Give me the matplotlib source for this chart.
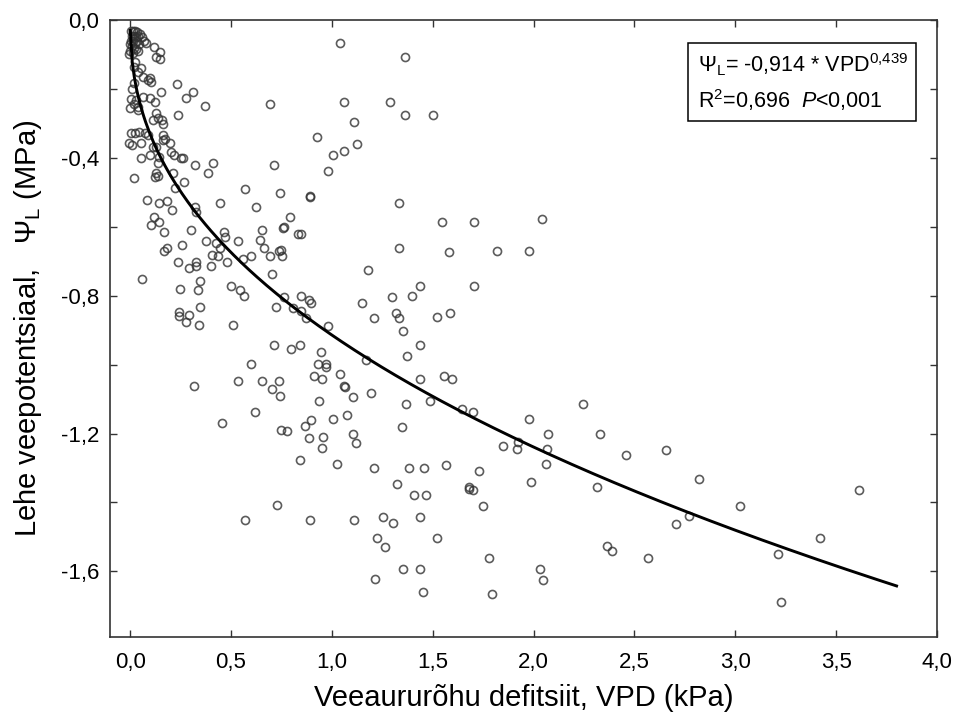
import numpy as np
import matplotlib
matplotlib.use('Agg')
import matplotlib.pyplot as plt
from matplotlib.ticker import FuncFormatter, MultipleLocator
from matplotlib.patches import Rectangle

plt.rcParams['font.family'] = ['Liberation Sans', 'DejaVu Sans']
plt.rcParams['mathtext.fontset'] = 'custom'
plt.rcParams['mathtext.rm'] = 'Liberation Sans'
plt.rcParams['mathtext.it'] = 'Liberation Sans:italic'

# fitted model: Psi_L = a * VPD^b
a_coef = -0.914
b_coef = 0.439
vpd_fit_max = 3.8

vpd = [
    0.005, 0.015, 0.025, 0.035, 0.010, 0.020, 0.030, 0.040, 0.050, 0.005,
    0.015, 0.025, 0.035, 0.045, 0.010, 0.020, 0.030, 0.000, 0.015, 0.040,
    0.060, 0.070, -0.003, -0.006, 0.079,
    0.026, 0.018, 0.038, 0.054, 0.063, 0.088, 0.104, 0.096, 0.021, 0.010,
    0.006, 0.001, 0.030, 0.041, 0.038, 0.061, 0.021, 0.096, 0.124,
    0.120, 0.150, 0.129, 0.150,
    0.231, 0.313, 0.279, 0.371, 0.155, 0.239, 0.694,
    0.130, 0.137, 0.158, 0.165, 0.115,
    0.163, 0.173, 0.162, 0.199, 0.204, 0.219, 0.252, 0.264, 0.322, 0.411,
    0.385, 0.711,
    0.051, 0.099, 0.137, 0.145, 0.021, 0.126, 0.124, 0.137, 0.214, 0.269,
    0.223, 0.571, 0.744,
    0.002, 0.025, 0.046, 0.071, 0.088, -0.005, 0.010, 0.051, 0.115, 0.129,
    0.084, 0.145, 0.183, 0.208, 0.323, 0.327, 0.445, 0.624, 0.792,
    0.120, 0.142, 0.104, 0.168, 0.300, 0.467, 0.472, 0.655, 0.756, 0.764,
    0.833, 0.642, 0.536, 0.378, 0.427, 0.444, 0.259, 0.180, 0.167, 0.665,
    0.736, 0.747, 0.407, 0.437, 0.599, 0.559, 0.694, 0.754, 0.480, 0.236,
    0.327, 0.328, 0.290, 0.402, 0.701, 0.056, 0.348, 0.246, 0.335, 0.500,
    0.543, 0.564, 0.762, 0.887, 0.721, 0.807, 0.874, 0.348, 0.241, 0.244,
    0.292, 0.279, 0.340, 0.508, 0.714, 0.797, 0.841, 0.599, 0.536, 0.653,
    0.737, 0.701, 0.744, 0.315, 0.618, 0.454, 0.747, 0.777, 0.840, 0.729,
    0.569, 0.846,
    1.041, 1.361, 1.062, 1.290, 1.361, 1.500, 1.110, 0.924, 1.125, 1.062,
    1.006, 0.980, 0.889, 0.891, 1.331, 0.846, 1.547, 1.705, 2.040, 1.331,
    1.582, 1.817, 1.976, 1.179, 1.436, 1.705, 1.395, 1.296, 1.151, 0.846,
    0.896, 1.320, 1.588, 1.209, 1.331, 1.519,
    0.981, 1.352, 1.435, 0.945, 1.372, 1.171, 0.932, 0.973, 0.973, 1.041,
    0.909, 0.952, 1.435, 1.554, 1.597, 1.062, 1.067, 1.103, 1.192, 0.937,
    1.367, 1.484, 1.644, 1.701, 2.246, 1.976, 1.075, 1.006, 0.896, 0.867,
    1.346, 2.073, 2.329, 1.103, 1.118, 0.887, 0.958, 0.950, 1.850, 1.920,
    1.923, 2.067, 2.459, 1.027, 2.060, 1.207, 1.380, 1.458, 1.567, 1.728,
    1.325, 1.989, 2.316, 1.679, 1.701, 1.679, 1.409, 1.465, 1.747, 0.889,
    1.110, 1.255, 1.305, 1.435, 1.519, 1.222, 1.263, 2.365, 2.387, 1.781,
    1.352, 1.435, 2.032, 2.046, 1.214, 1.451, 1.796,
    2.657, 2.820, 3.612, 3.023, 2.705, 2.773, 2.567, 3.418, 3.211, 3.225,
]
psi = [
    -0.030, -0.030, -0.030, -0.035, -0.045, -0.045, -0.050, -0.045, -0.040, -0.060,
    -0.060, -0.065, -0.060, -0.070, -0.075, -0.080, -0.085, -0.090, -0.095, -0.090,
    -0.050, -0.060, -0.068, -0.097, -0.066,
    -0.121, -0.135, -0.150, -0.140, -0.164, -0.174, -0.179, -0.169, -0.181, -0.201,
    -0.229, -0.256, -0.232, -0.251, -0.261, -0.222, -0.242, -0.227, -0.237,
    -0.077, -0.092, -0.106, -0.114,
    -0.184, -0.208, -0.227, -0.249, -0.208, -0.274, -0.242,
    -0.269, -0.285, -0.291, -0.301, -0.290,
    -0.334, -0.344, -0.348, -0.357, -0.382, -0.391, -0.401, -0.401, -0.420, -0.414,
    -0.444, -0.420,
    -0.401, -0.391, -0.415, -0.396, -0.457, -0.444, -0.454, -0.452, -0.444, -0.471,
    -0.486, -0.490, -0.502,
    -0.328, -0.327, -0.324, -0.328, -0.333, -0.357, -0.362, -0.357, -0.367, -0.367,
    -0.522, -0.531, -0.524, -0.551, -0.541, -0.556, -0.531, -0.543, -0.571,
    -0.570, -0.585, -0.595, -0.615, -0.608, -0.615, -0.628, -0.608, -0.604, -0.600,
    -0.620, -0.637, -0.641, -0.641, -0.648, -0.662, -0.652, -0.661, -0.669, -0.661,
    -0.669, -0.667, -0.681, -0.684, -0.685, -0.693, -0.685, -0.685, -0.701, -0.701,
    -0.701, -0.713, -0.718, -0.713, -0.738, -0.751, -0.757, -0.779, -0.783, -0.771,
    -0.783, -0.800, -0.804, -0.812, -0.832, -0.836, -0.865, -0.832, -0.848, -0.858,
    -0.856, -0.877, -0.885, -0.885, -0.942, -0.954, -0.942, -0.999, -1.048, -1.048,
    -1.048, -1.072, -1.092, -1.063, -1.137, -1.170, -1.189, -1.192, -1.276, -1.407,
    -1.451, -0.843,
    -0.067, -0.107, -0.238, -0.238, -0.274, -0.274, -0.295, -0.339, -0.360, -0.381,
    -0.392, -0.438, -0.510, -0.512, -0.530, -0.620, -0.587, -0.587, -0.576, -0.661,
    -0.672, -0.669, -0.669, -0.726, -0.771, -0.771, -0.800, -0.804, -0.820, -0.800,
    -0.820, -0.849, -0.849, -0.864, -0.864, -0.861,
    -0.889, -0.901, -0.942, -0.962, -0.974, -0.987, -0.998, -0.998, -1.008, -1.027,
    -1.032, -1.041, -1.041, -1.032, -1.041, -1.061, -1.065, -1.093, -1.081, -1.104,
    -1.113, -1.104, -1.128, -1.137, -1.113, -1.157, -1.146, -1.157, -1.161, -1.178,
    -1.182, -1.202, -1.202, -1.202, -1.226, -1.214, -1.210, -1.243, -1.235, -1.246,
    -1.225, -1.246, -1.263, -1.288, -1.288, -1.300, -1.300, -1.300, -1.292, -1.308,
    -1.345, -1.341, -1.354, -1.354, -1.365, -1.361, -1.378, -1.378, -1.411, -1.451,
    -1.451, -1.443, -1.459, -1.443, -1.504, -1.504, -1.528, -1.525, -1.541, -1.561,
    -1.593, -1.593, -1.593, -1.626, -1.622, -1.659, -1.667,
    -1.247, -1.333, -1.365, -1.410, -1.463, -1.440, -1.561, -1.504, -1.549, -1.688,
]

x_ticks = [0.0, 0.5, 1.0, 1.5, 2.0, 2.5, 3.0, 3.5, 4.0]
y_ticks = [0.0, -0.4, -0.8, -1.2, -1.6]

fig = plt.figure(figsize=(9.57, 7.22), dpi=100)
ax = fig.add_axes([0.115, 0.118, 0.864, 0.854])

ax.plot(vpd, psi, 'o', ls='none', ms=5.8, mfc='none', mec='#333333',
        mew=1.2, alpha=0.8)

xf = np.linspace(0.0004, vpd_fit_max, 400)
ax.plot(xf, a_coef * xf ** b_coef, color='black', lw=2.1)

ax.set_xlim(-0.1, 4.0)
ax.set_ylim(-1.79, 0.0)
ax.set_xticks(x_ticks)
ax.set_yticks(y_ticks)
ax.yaxis.set_minor_locator(MultipleLocator(0.2))
comma = FuncFormatter(lambda v, p: f'{v:.1f}'.replace('.', ',').replace('-0,0', '0,0'))
ax.xaxis.set_major_formatter(comma)
ax.yaxis.set_major_formatter(comma)
ax.tick_params(which='both', direction='in', top=True, right=True,
               length=5, width=1, color='#333333', labelsize=16)
ax.tick_params(axis='x', pad=11)
ax.tick_params(axis='y', pad=8)

for s in ax.spines.values():
    s.set_linewidth(1.2)
    s.set_color('#333333')

ax.set_xlabel('Veeaururõhu defitsiit, VPD (kPa)', fontsize=21, labelpad=8)
ax.set_ylabel(r'Lehe veepotentsiaal,   $\Psi_{\rm L}$ (MPa)', fontsize=21, labelpad=12)

ax.add_patch(Rectangle((0.699, 0.836), 0.276, 0.127, transform=ax.transAxes,
                       fc='white', ec='black', lw=1.1, zorder=5))
ax.text(0.711, 0.928, r'$\Psi_{\rm L}$= -0,914 * VPD$^{0{,}439}$', transform=ax.transAxes,
        fontsize=15.5, va='center', ha='left', zorder=6)
ax.text(0.711, 0.870, r'R$^{2}$=0,696  $P$<0,001', transform=ax.transAxes,
        fontsize=15.5, va='center', ha='left', zorder=6)

fig.savefig('out.png', dpi=100)
